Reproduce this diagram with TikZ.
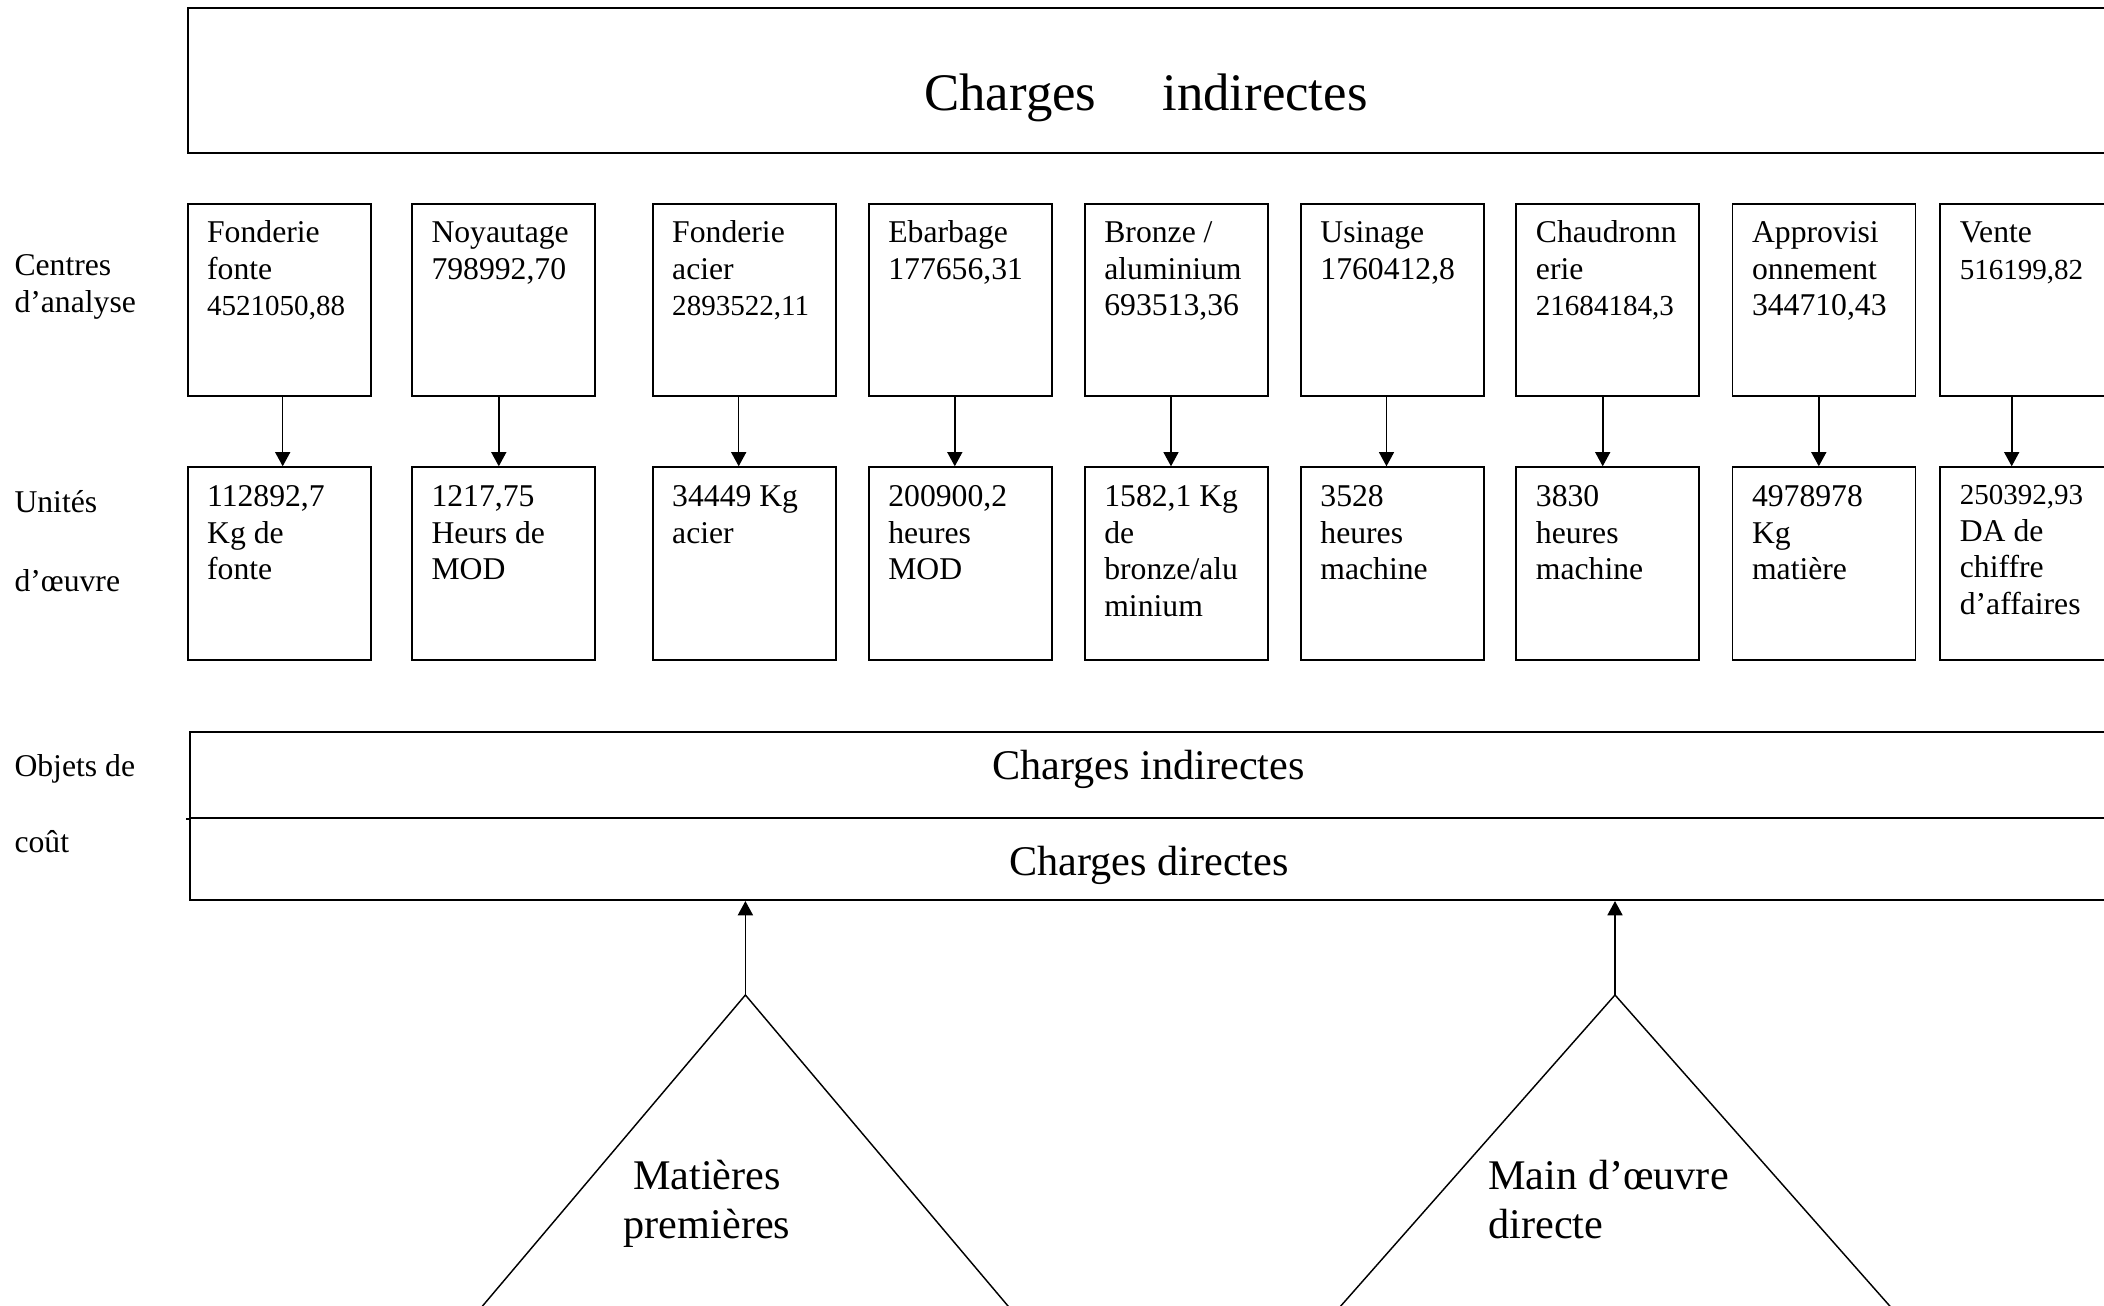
\documentclass[tikz,border=0pt]{standalone}
\usepackage{fontspec}
\setmainfont{Liberation Serif}
\usetikzlibrary{arrows.meta}
\begin{document}
\begin{tikzpicture}[x=0.3788pt,y=-0.3788pt,
  cbox/.style={draw, line width=0.75pt, anchor=north west, inner sep=0pt, minimum width=69.32pt},
  row1/.style={cbox, minimum height=72.73pt},
  row2/.style={cbox, minimum height=73.1pt},
  wide/.style={draw, line width=0.75pt, anchor=north west, inner sep=0pt, minimum width=800pt},
  txt/.style={anchor=base west, inner sep=0pt, text width=66pt, align=flush left, font={\fontsize{12}{13.8}\selectfont}},
  side/.style={anchor=base west, inner sep=0pt, text width=60pt, align=flush left, font={\fontsize{12}{13.8}\selectfont}},
  big/.style={anchor=base, inner sep=0pt, font={\fontsize{16}{18.4}\selectfont}},
  arr/.style={line width=0.6pt, -{Triangle[length=5.4pt,width=5.7pt]}},
  tri/.style={line width=0.55pt}
]
\clip (0,0) rectangle (2104,1306);
\newcommand\smallnum[1]{{\fontsize{11}{13.8}\selectfont #1}}
% top box
\node[wide, minimum height=54.7pt] (top) at (186.6,7.3) {};
\node[anchor=base, inner sep=0pt, font={\fontsize{20}{23}\selectfont}] (title) at (1146,111) {Charges\hspace{25pt}indirectes};
% side labels
\node[side] (lca) at (14,276) {Centres\\d’analyse};
\node[side] (lu1) at (14,512.7) {Unités};
\node[side] (lu2) at (14,591.6) {d’œuvre};
\node[side] (lo1) at (14,777) {Objets de};
\node[side] (lo2) at (14,853) {coût};
% row 1 boxes
\node[row1] (a1) at (186.6,202.7) {};
\node[row1] (a2) at (411,202.7) {};
\node[row1] (a3) at (651.7,202.7) {};
\node[row1] (a4) at (867.8,202.7) {};
\node[row1] (a5) at (1083.8,202.7) {};
\node[row1] (a6) at (1299.9,202.7) {};
\node[row1] (a7) at (1515.4,202.7) {};
\node[row1] (a8) at (1731.5,202.7) {};
\node[row1] (a9) at (1939.3,202.7) {};
% row 2 boxes
\node[row2] (b1) at (186.6,466.3) {};
\node[row2] (b2) at (411,466.3) {};
\node[row2] (b3) at (651.7,466.3) {};
\node[row2] (b4) at (867.8,466.3) {};
\node[row2] (b5) at (1083.8,466.3) {};
\node[row2] (b6) at (1299.9,466.3) {};
\node[row2] (b7) at (1515.4,466.3) {};
\node[row2] (b8) at (1731.5,466.3) {};
\node[row2] (b9) at (1939.3,466.3) {};
% row 1 texts
\node[txt] (ta1) at (206.6,243) {Fonderie\\fonte\\\smallnum{4521050,88}};
\node[txt] (ta2) at (431,243) {Noyautage\\798992,70};
\node[txt] (ta3) at (671.7,243) {Fonderie\\acier\\\smallnum{2893522,11}};
\node[txt] (ta4) at (887.8,243) {Ebarbage\\177656,31};
\node[txt] (ta5) at (1103.8,243) {Bronze /\\aluminium\\693513,36};
\node[txt] (ta6) at (1319.9,243) {Usinage\\1760412,8};
\node[txt] (ta7) at (1535.4,243) {Chaudronn\\erie\\\smallnum{21684184,3}};
\node[txt] (ta8) at (1751.5,243) {Approvisi\\onnement\\344710,43};
\node[txt] (ta9) at (1959.3,243) {Vente\\\smallnum{516199,82}};
% row 2 texts
\node[txt] (tb1) at (206.6,507) {112892,7\\Kg de\\fonte};
\node[txt] (tb2) at (431,507) {1217,75\\Heurs de\\MOD};
\node[txt] (tb3) at (671.7,507) {34449 Kg\\acier};
\node[txt] (tb4) at (887.8,507) {200900,2\\heures\\MOD};
\node[txt] (tb5) at (1103.8,507) {1582,1 Kg\\de\\bronze/alu\\minium};
\node[txt] (tb6) at (1319.9,507) {3528\\heures\\machine};
\node[txt] (tb7) at (1535.4,507) {3830\\heures\\machine};
\node[txt] (tb8) at (1751.5,507) {4978978\\Kg\\matière};
\node[txt] (tb9) at (1959.3,505) {\smallnum{250392,93}\\DA de\\chiffre\\d’affaires};
% arrow x positions
\coordinate (x1) at (282.7,0);
\coordinate (x2) at (498.8,0);
\coordinate (x3) at (738.7,0);
\coordinate (x4) at (954.8,0);
\coordinate (x5) at (1171,0);
\coordinate (x6) at (1386.5,0);
\coordinate (x7) at (1602.7,0);
\coordinate (x8) at (1818.8,0);
\coordinate (x9) at (2011.7,0);
\foreach \i in {1,...,9}{
  \draw[arr] (a\i.south -| x\i) -- (b\i.north -| x\i);
}
% cost objects
\node[wide, minimum height=32.58pt] (ci) at (189.3,730.7) {};
\node[wide, minimum height=31.2pt] (cd) at (189.3,816.7) {};
\draw[line width=0.75pt] (ci.south west) -- ++(-3.5,0);
\node[big] (tci) at (1148.6,780) {Charges indirectes};
\node[big] (tcd) at (1149,876) {Charges directes};
% triangles
\coordinate (apL) at (745.4,995);
\coordinate (apR) at (1615,995);
\draw[tri] (apL) ++(-291.6,345) -- (apL) -- ++(291.3,345);
\draw[tri] (apR) ++(-304.2,345) -- (apR) -- ++(304.8,345);
\draw[arr] (apL) -- (apL |- cd.south);
\draw[arr] (apR) -- (apR |- cd.south);
\node[big, text width=120pt, align=center] (tmp) at (707,1190) {Matières\\premières};
\node[big, anchor=base west, text width=120pt, align=flush left] (tmo) at (1487.8,1190) {Main d’œuvre\\directe};
\end{tikzpicture}
\end{document}
